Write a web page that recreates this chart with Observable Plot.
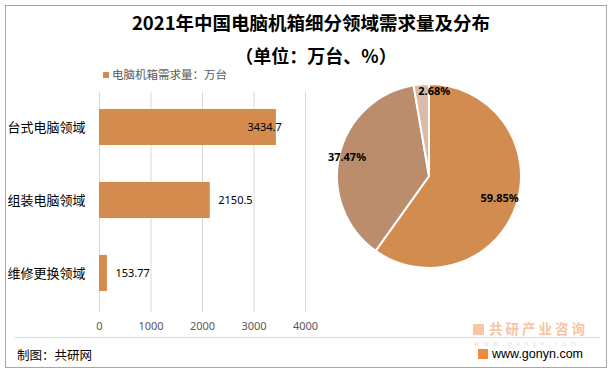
<!DOCTYPE html>
<html><head><meta charset="utf-8">
<script src="https://cdn.jsdelivr.net/npm/d3@7"></script>
<script src="https://cdn.jsdelivr.net/npm/@observablehq/plot@0.6"></script>
<style>
body{margin:0;background:#fff;}
#chart{position:relative;width:615px;height:372px;font-family:"Noto Sans CJK SC","Noto Sans",sans-serif;overflow:hidden;background:#fff;}
#frame{position:absolute;left:5px;top:5px;width:602px;height:363px;border:1px solid #a6a6a6;box-sizing:border-box;}
.abs{position:absolute;white-space:nowrap;}
#title{left:0;width:622px;top:9px;text-align:center;font-size:18.5px;font-weight:bold;color:#000;}
#subtitle{left:0;width:632px;top:42px;text-align:center;font-size:18px;font-weight:bold;color:#000;}
#legend{left:103px;top:66px;font-size:11.5px;color:#595959;}
#legend span.sw{display:inline-block;width:6px;height:6px;background:#d38b4e;margin-right:3px;vertical-align:1px;}
#sep{left:15px;top:337px;width:585px;height:1px;background:#d9d9d9;}
#src{left:17px;top:345px;font-size:12.5px;color:#000;}
#logo1{left:473px;top:321px;font-size:13.5px;line-height:14px;height:14px;font-weight:bold;color:#f6c4a3;letter-spacing:3px;}
#logo1 span.ic{display:inline-block;width:11px;height:11px;background:#f7c7a6;margin-right:5px;vertical-align:-1px;}
#logo2{left:474px;top:340px;font-size:6.5px;line-height:7px;height:7px;color:#eedccd;letter-spacing:4.3px;}
#logo3{left:478px;top:347px;font-size:12.5px;line-height:14px;color:#000;font-family:"Liberation Sans",sans-serif;}
#logo3 span.ic{display:inline-block;width:10px;height:10px;background:#f08a3c;margin-right:4px;vertical-align:-1px;}
#bars{left:0;top:88px;}
#pie{left:329px;top:76px;}
</style></head><body>
<div id="chart">
  <div id="frame"></div>
  <div class="abs" id="title">2021年中国电脑机箱细分领域需求量及分布</div>
  <div class="abs" id="subtitle">（单位：万台、%）</div>
  <div class="abs" id="legend"><span class="sw"></span>电脑机箱需求量：万台</div>
  <div class="abs" id="bars"></div>
  <div class="abs" id="pie"></div>
  <div class="abs" id="sep"></div>
  <div class="abs" id="src">制图：共研网</div>
  <div class="abs" id="logo1"><span class="ic"></span>共研产业咨询</div>
  <div class="abs" id="logo2">www.gonyn.com</div>
  <div class="abs" id="logo3"><span class="ic"></span>www.gonyn.com</div>
</div>
<script>
const categories = ["台式电脑领域", "组装电脑领域", "维修更换领域"];
const demand = [3434.7, 2150.5, 153.77];
const valueLabels = ["3434.7", "2150.5", "153.77"];
const xTicks = [0, 1000, 2000, 3000, 4000];
const shareCategories = ["台式电脑领域", "组装电脑领域", "维修更换领域"];
const shares = [59.85, 37.47, 2.68];
const shareLabels = ["59.85%", "37.47%", "2.68%"];
const pieColors = ["#d38c4f", "#bb8d6d", "#d9bba7"];

const barData = categories.map((c, i) => ({cat: c, v: demand[i], label: valueLabels[i]}));

const barPlot = Plot.plot({
  width: 320, height: 254,
  marginLeft: 99, marginRight: 15, marginTop: 4, marginBottom: 30,
  style: {fontFamily: '"Noto Sans CJK SC","Noto Sans",sans-serif', background: "transparent", overflow: "visible"},
  x: {domain: [0, 4000], ticks: xTicks, label: null},
  y: {domain: categories, range: [1.6, 221.4], paddingInner: 0.51, paddingOuter: 0.25, label: null},
  marks: [
    Plot.gridX(xTicks, {stroke: "#d9d9d9", strokeOpacity: 1, strokeWidth: 1}),
    Plot.axisX({ticks: xTicks, tickSize: 0, tickPadding: 10, fontSize: 11, fill: "#595959", label: null, tickFormat: d => String(d), fontFamily: '"Noto Sans",sans-serif'}),
    Plot.axisY({tickSize: 0, tickPadding: 0, textAnchor: "start", dx: -92, fontSize: 13, fill: "#000", label: null}),
    Plot.barX(barData, {x: "v", y: "cat", fill: "#d38b4e"}),
    Plot.text(barData.filter((d, i) => i === 0), {x: "v", y: "cat", text: "label", textAnchor: "start", dx: -29, fontSize: 11, fill: "#000", fontFamily: '"Noto Sans",sans-serif'}),
    Plot.text(barData.filter((d, i) => i > 0), {x: "v", y: "cat", text: "label", textAnchor: "start", dx: 8, fontSize: 11, fill: "#000", fontFamily: '"Noto Sans",sans-serif'})
  ]
});
document.getElementById("bars").appendChild(barPlot);

// pie
const arcs = d3.pie().sort(null).value(d => d)(shares);
const labelRadius = [0.8, 0.92, 0.93];
const labelShift = [0, 0, 0.13];
const pieLabelData = arcs.map((a, i) => {
  const m = (a.startAngle + a.endAngle) / 2;
  return {x: Math.sin(m) * labelRadius[i] + labelShift[i], y: Math.cos(m) * labelRadius[i], label: shareLabels[i], cat: shareCategories[i]};
});

function pieSlices(index, scales, values, dims) {
  let cx, cy, r;
  if (scales && typeof scales.x === "function") {
    cx = scales.x(0); cy = scales.y(0); r = scales.x(1) - scales.x(0);
  } else {
    cx = dims.marginLeft + (dims.width - dims.marginLeft - dims.marginRight) / 2;
    cy = dims.marginTop + (dims.height - dims.marginTop - dims.marginBottom) / 2;
    r = (dims.width - dims.marginLeft - dims.marginRight) / 2;
  }
  const arc = d3.arc().innerRadius(0).outerRadius(r);
  const g = d3.create("svg:g").attr("transform", `translate(${cx},${cy})`);
  g.selectAll("path").data(arcs).join("path")
    .attr("d", arc)
    .attr("fill", (d, i) => pieColors[i])
    .attr("stroke", "#fff")
    .attr("stroke-width", 2)
    .attr("stroke-linejoin", "miter");
  return g.node();
}

const piePlot = Plot.plot({
  width: 200, height: 200,
  margin: 8,
  style: {background: "transparent", overflow: "visible"},
  x: {domain: [-1, 1], axis: null},
  y: {domain: [-1, 1], axis: null},
  marks: [
    pieSlices,
    Plot.text(pieLabelData, {x: "x", y: "y", text: "label", fontSize: 11, fontWeight: "bold", fill: "#000", fontFamily: '"Noto Sans",sans-serif'})
  ]
});
document.getElementById("pie").appendChild(piePlot);
</script>
</body></html>
